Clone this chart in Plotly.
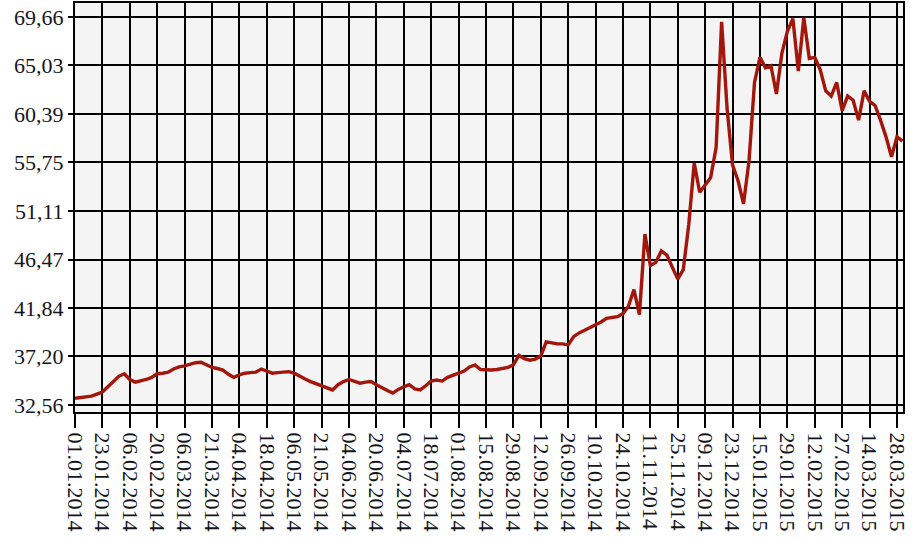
import plotly.graph_objects as go

# курс, по 5 точек на интервал между подписями
rate = [
    33.2, 33.25, 33.3, 33.4, 33.6, 33.8, 34.3, 34.8, 35.3, 35.55,
    35.0, 34.75, 34.85, 35.0, 35.2, 35.55, 35.6, 35.7, 36.0, 36.2,
    36.3, 36.45, 36.6, 36.65, 36.4, 36.15, 36.05, 35.9, 35.5, 35.2,
    35.45, 35.6, 35.65, 35.7, 36.0, 35.8, 35.6, 35.65, 35.7, 35.75,
    35.6, 35.3, 35.05, 34.8, 34.6, 34.45, 34.2, 34.0, 34.5, 34.8,
    35.0, 34.85, 34.65, 34.75, 34.8, 34.5, 34.2, 33.95, 33.7, 34.05,
    34.3, 34.5, 34.1, 34.0, 34.4, 34.85, 34.95, 34.85, 35.2, 35.4,
    35.65, 35.8, 36.2, 36.4, 35.95, 35.9, 35.9, 35.95, 36.05, 36.15,
    36.4, 37.3, 37.0, 36.85, 36.95, 37.25, 38.6, 38.5, 38.4, 38.4,
    38.3, 39.1, 39.45, 39.7, 39.95, 40.2, 40.5, 40.85, 40.9, 41.0,
    41.3, 42.0, 43.6, 41.2, 48.9, 45.9, 46.2, 47.3, 46.9, 45.8,
    44.6, 45.5, 49.8, 55.7, 52.9, 53.6, 54.3, 57.2, 69.2, 60.9,
    55.5, 54.0, 51.8, 55.9, 63.4, 65.8, 64.8, 65.0, 62.3, 66.2,
    68.3, 69.5, 64.5, 69.6, 65.7, 65.8, 64.6, 62.6, 62.1, 63.4,
    60.7, 62.1, 61.7, 59.8, 62.6, 61.6, 61.2, 59.8, 58.2, 56.3,
    58.2, 57.8,
]

date_labels = [
    "01.01.2014", "23.01.2014", "06.02.2014", "20.02.2014", "06.03.2014",
    "21.03.2014", "04.04.2014", "18.04.2014", "06.05.2014", "21.05.2014",
    "04.06.2014", "20.06.2014", "04.07.2014", "18.07.2014", "01.08.2014",
    "15.08.2014", "29.08.2014", "12.09.2014", "26.09.2014", "10.10.2014",
    "24.10.2014", "11.11.2014", "25.11.2014", "09.12.2014", "23.12.2014",
    "15.01.2015", "29.01.2015", "12.02.2015", "27.02.2015", "14.03.2015",
    "28.03.2015",
]
date_pos = [k * 5 for k in range(len(date_labels))]

y_ticks = [32.56, 37.20, 41.84, 46.47, 51.11, 55.75, 60.39, 65.03, 69.66]
y_text = [f"{v:.2f}".replace(".", ",") for v in y_ticks]

fig = go.Figure()
fig.add_trace(go.Scatter(
    x=list(range(len(rate))), y=rate, mode="lines",
    line=dict(color="#a3160c", width=3.4),
    hoverinfo="skip",
))

axis_font = dict(family="Liberation Serif, Times New Roman, serif", size=22, color="#151520")

fig.update_layout(
    width=919, height=542,
    margin=dict(l=75, r=16, t=1, b=130),
    paper_bgcolor="white",
    plot_bgcolor="#f4f4f4",
    showlegend=False,
)
fig.update_xaxes(
    range=[0, 151.1],
    tickmode="array", tickvals=date_pos, ticktext=date_labels,
    tickangle=90, tickfont=axis_font,
    ticks="outside", ticklen=14, tickwidth=2, tickcolor="black",
    showgrid=True, gridcolor="black", gridwidth=2,
    showline=True, linecolor="black", linewidth=2, mirror=True,
    zeroline=False,
)
fig.update_yaxes(
    range=[31.89, 71.0],
    tickmode="array", tickvals=y_ticks, ticktext=y_text,
    tickfont=axis_font,
    ticks="outside", ticklen=5, tickwidth=2, tickcolor="black",
    showgrid=True, gridcolor="black", gridwidth=2,
    showline=True, linecolor="black", linewidth=2, mirror=True,
    zeroline=False,
)

# убрать стандартный отступ страницы
fig.write_html("out.html", config={"displayModeBar": False},
               post_script="document.body.style.margin='0';")
